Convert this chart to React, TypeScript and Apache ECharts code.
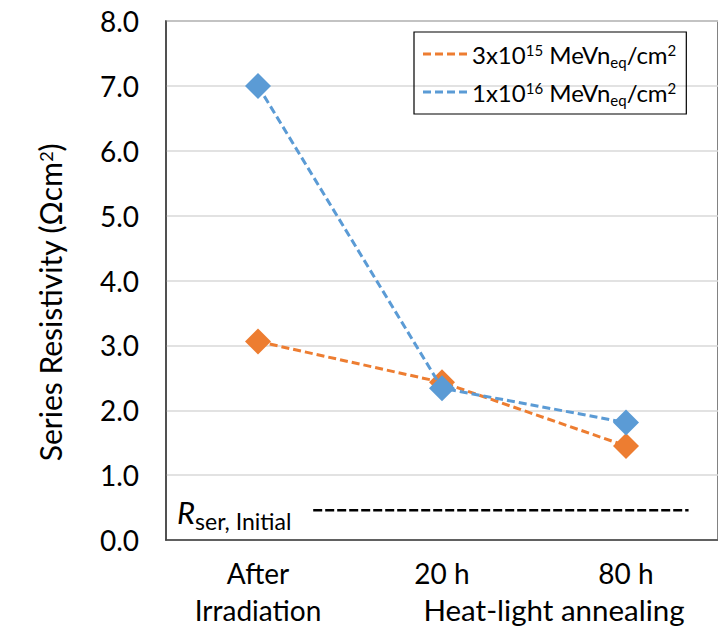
import React, { useEffect, useRef } from "react";
import * as echarts from "echarts";

const categories = ["After\nIrradiation", "20 h", "80 h"];
const groupLabel = "Heat-light annealing";
const seriesNames = ["3e15", "1e16"];
const legendLabels = [
  "3x10{sup|15} MeVn{sub|eq}/cm{sup|2}",
  "1x10{sup|16} MeVn{sub|eq}/cm{sup|2}",
];
const fluence3e15 = [3.06, 2.43, 1.45];
const fluence1e16 = [7.0, 2.34, 1.81];
const yMin = 0;
const yMax = 8;
const yInterval = 1;
const rserInitial = 0.46;
const rserSpan = [0.8, 2.84];

const FONT = "Lato, 'Open Sans', sans-serif";
const ORANGE = "#ED7D31";
const BLUE = "#5B9BD5";

export default function App() {
  const ref = useRef<HTMLDivElement>(null);
  useEffect(() => {
    document.body.style.margin = "0";
    if (!ref.current) return;
    const chart = echarts.init(ref.current, undefined, { renderer: "svg" });
    const dashIcon = "path://M0,0h8v3h-8z M12,0h8v3h-8z M24,0h8v3h-8z M36,0h8v3h-8z";
    const option: any = {
      animation: false,
      backgroundColor: "#fff",
      grid: {
        left: 166,
        top: 21,
        right: -3,
        bottom: 94,
        show: true,
        borderColor: "#595959",
        borderWidth: 1.5,
        containLabel: false,
      },
      legend: {
        orient: "vertical",
        left: 414,
        top: 32,
        width: 295,
        padding: [7, 10, 7, 9],
        itemGap: 8,
        itemWidth: 44,
        itemHeight: 3,
        borderColor: "#000",
        borderWidth: 1.2,
        data: [
          { name: seriesNames[0], icon: dashIcon, itemStyle: { color: ORANGE } },
          { name: seriesNames[1], icon: dashIcon, itemStyle: { color: BLUE } },
        ],
        formatter: (name: string) => legendLabels[seriesNames.indexOf(name)],
        textStyle: {
          fontFamily: FONT,
          fontSize: 24,
          color: "#000",
          lineHeight: 30,
          rich: {
            sup: { fontFamily: FONT, fontSize: 15, lineHeight: 15, verticalAlign: "top", padding: [3, 0, 0, 0], color: "#000" },
            sub: { fontFamily: FONT, fontSize: 15, lineHeight: 15, verticalAlign: "bottom", color: "#000" },
          },
        },
      },
      xAxis: [
        {
          type: "category",
          data: categories,
          boundaryGap: true,
          axisLine: { show: true, lineStyle: { color: "#404040", width: 1.5 } },
          axisTick: { show: false },
          axisLabel: {
            interval: 0,
            margin: 14,
            fontFamily: FONT,
            fontSize: 28,
            lineHeight: 37,
            color: "#000",
          },
          splitLine: { show: false },
        },
        {
          type: "value",
          min: 0,
          max: categories.length,
          show: false,
          splitLine: { show: false },
        },
      ],
      yAxis: {
        type: "value",
        min: yMin,
        max: yMax,
        interval: yInterval,
        axisLine: { show: true, lineStyle: { color: "#404040", width: 1.5 } },
        axisTick: { show: false },
        axisLabel: {
          margin: 27,
          fontFamily: FONT,
          fontSize: 28,
          color: "#000",
          formatter: (v: number) => v.toFixed(1),
        },
        splitLine: { show: true, lineStyle: { color: "#D9D9D9", width: 1.5 } },
      },
      series: [
        {
          name: seriesNames[0],
          type: "line",
          data: fluence3e15,
          symbol: "diamond",
          symbolSize: 26,
          itemStyle: { color: ORANGE },
          lineStyle: { color: ORANGE, width: 3, type: [8, 4] },
          z: 2,
        },
        {
          name: seriesNames[1],
          type: "line",
          data: fluence1e16,
          symbol: "diamond",
          symbolSize: 26,
          itemStyle: { color: BLUE },
          lineStyle: { color: BLUE, width: 3, type: [8, 4] },
          z: 3,
        },
        {
          name: "Rser initial",
          type: "line",
          xAxisIndex: 1,
          data: [
            [rserSpan[0], rserInitial],
            [rserSpan[1], rserInitial],
          ],
          symbol: "none",
          silent: true,
          lineStyle: { color: "#000", width: 2.5, type: [9, 3] },
          z: 1,
        },
      ],
    };
    chart.setOption(option);

    const p20 = chart.convertToPixel({ xAxisIndex: 0, yAxisIndex: 0 } as any, [categories[1], 0]) as number[];
    const p80 = chart.convertToPixel({ xAxisIndex: 0, yAxisIndex: 0 } as any, [categories[2], 0]) as number[];
    const pR = chart.convertToPixel({ yAxisIndex: 0 } as any, rserInitial) as any;
    const grid0 = chart.convertToPixel({ xAxisIndex: 1, yAxisIndex: 0 } as any, [0, yMax]) as number[];
    const gridBottom = p20[1];
    const rY = typeof pR === "number" ? pR : pR[1];

    chart.setOption({
      graphic: [
        {
          type: "text",
          x: (p20[0] + p80[0]) / 2 + 20,
          y: gridBottom + 14 + 37 + 18,
          style: {
            text: groupLabel,
            fontFamily: FONT,
            fontSize: 29.5,
            fill: "#000",
            textAlign: "center",
            textVerticalAlign: "middle",
          },
        },
        {
          type: "text",
          x: 50,
          y: (grid0[1] + gridBottom) / 2 + 22,
          rotation: Math.PI / 2,
          style: {
            text: "Series Resistivity (Ωcm{sup|2})",
            fontFamily: FONT,
            fontSize: 30,
            fill: "#000",
            textAlign: "center",
            textVerticalAlign: "middle",
            lineHeight: 34,
            rich: {
              sup: { fontFamily: FONT, fontSize: 18, lineHeight: 18, verticalAlign: "top", padding: [4, 0, 0, 0], fill: "#000" },
            },
          },
        },
        {
          type: "text",
          x: grid0[0] + 11,
          y: rY + 3,
          style: {
            text: "{r|R}{s|ser, Initial}",
            textAlign: "left",
            textVerticalAlign: "middle",
            rich: {
              r: { fontFamily: FONT, fontSize: 31, fontStyle: "italic", lineHeight: 34, fill: "#000", verticalAlign: "top" },
              s: { fontFamily: FONT, fontSize: 23, lineHeight: 23, fill: "#000", verticalAlign: "bottom", padding: [0, 0, -2, 0] },
            },
          },
        },
      ],
    });

    return () => chart.dispose();
  }, []);
  return <div ref={ref} style={{ width: 718, height: 634 }} />;
}
